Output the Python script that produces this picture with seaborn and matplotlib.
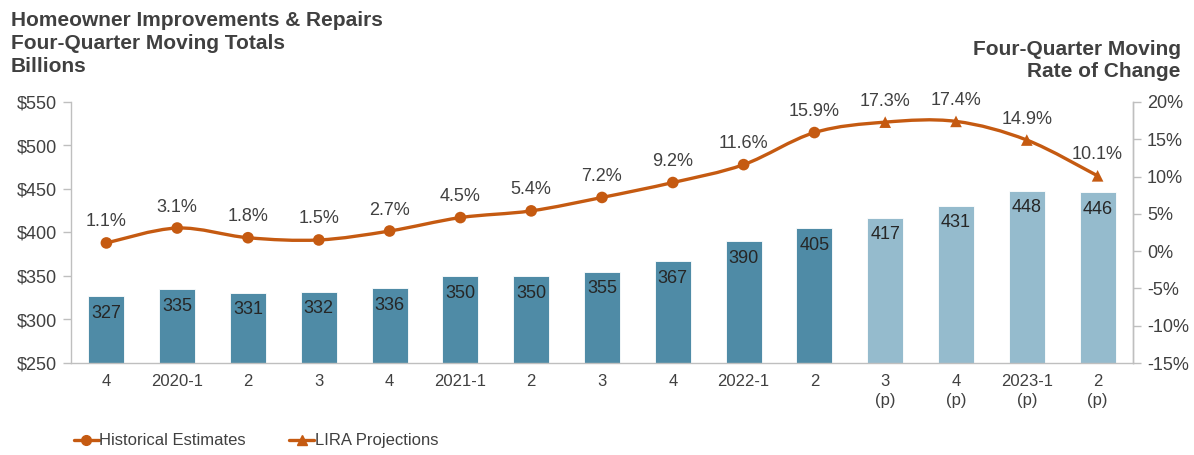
import numpy as np
import pandas as pd
import matplotlib
matplotlib.use('Agg')
import matplotlib.pyplot as plt
from matplotlib.path import Path
from matplotlib.patches import PathPatch
from matplotlib.lines import Line2D
import seaborn as sns

# data
quarters = ['4', '2020-1', '2', '3', '4', '2021-1', '2', '3', '4', '2022-1', '2',
            '3\n(p)', '4\n(p)', '2023-1\n(p)', '2\n(p)']
spending = [327, 335, 331, 332, 336, 350, 350, 355, 367, 390, 405, 417, 431, 448, 446]
rate_change = [1.1, 3.1, 1.8, 1.5, 2.7, 4.5, 5.4, 7.2, 9.2, 11.6, 15.9, 17.3, 17.4, 14.9, 10.1]
kind = ['Historical'] * 11 + ['Projection'] * 4

dark_blue = '#4F8BA6'
light_blue = '#95BBCD'
orange = '#C55A11'
txt = '#404040'
grey = '#BFBFBF'
font_size_ = 12
label_size = 13
title_size = 15

sns.set_style('white')
plt.rcParams['font.family'] = ['Liberation Sans', 'DejaVu Sans']

df = pd.DataFrame({'pos': [str(i) for i in range(len(quarters))],
                   'spending': spending, 'kind': kind, 'rate': rate_change})

fig = plt.figure(figsize=(11.94, 4.55), dpi=100)
ax = fig.add_axes([71 / 1194, 1 - 363 / 455, 1062 / 1194, 261 / 455])

sns.barplot(data=df, x='pos', y='spending', hue='kind', dodge=False, width=0.51,
            palette={'Historical': dark_blue, 'Projection': light_blue},
            saturation=1, errorbar=None, legend=False, ax=ax,
            edgecolor='white', linewidth=0.6)
ax.set_ylim(250, 550)
ax.set_xlim(-0.5, len(quarters) - 0.5)
ax.set_xlabel('')
ax.set_ylabel('')
ax.set_yticks(range(250, 551, 50))
ax.set_yticklabels(['$%d' % v for v in range(250, 551, 50)])
ax.set_xticks(range(len(quarters)))
ax.set_xticklabels(quarters, linespacing=1.35)
ax.set_xticks(np.arange(-0.5, len(quarters), 1), minor=True)
ax.tick_params(axis='x', which='major', length=0, pad=8, labelsize=font_size_, labelcolor=txt)
ax.tick_params(axis='x', which='minor', length=6, width=1, color=grey, direction='out')
ax.tick_params(axis='y', length=6, width=1, color=grey, direction='out', pad=4,
               labelsize=label_size, labelcolor=txt, left=True)
ax.spines['top'].set_visible(False)
for s in ['left', 'bottom', 'right']:
    ax.spines[s].set_color(grey)
    ax.spines[s].set_linewidth(1)

# bar value labels inside the top of each bar
for i, v in enumerate(spending):
    ax.annotate(str(v), (i, v), xytext=(0, -17), textcoords='offset pixels',
                ha='center', va='center', fontsize=label_size, color='#262626')

# rate of change on the right axis
ax2 = ax.twinx()
ax2.set_ylim(-15, 20)
ax2.set_yticks(range(-15, 21, 5))
ax2.set_yticklabels(['%d%%' % v for v in range(-15, 21, 5)])
ax2.tick_params(axis='y', length=6, width=1, color=grey, direction='out', pad=4,
                labelsize=label_size, labelcolor=txt, right=True)
for s in ['top', 'left', 'bottom']:
    ax2.spines[s].set_visible(False)
ax2.spines['right'].set_color(grey)
ax2.spines['right'].set_linewidth(1)

# smoothed line (Catmull-Rom as cubic Bezier), like Excel's smoothed series
pts = np.column_stack([np.arange(len(rate_change)), rate_change]).astype(float)
ext = np.vstack([pts[0], pts, pts[-1]])
verts = [pts[0]]
codes = [Path.MOVETO]
for i in range(len(pts) - 1):
    p0, p1, p2, p3 = ext[i], ext[i + 1], ext[i + 2], ext[i + 3]
    verts += [p1 + (p2 - p0) / 6, p2 - (p3 - p1) / 6, p2]
    codes += [Path.CURVE4] * 3
ax2.add_patch(PathPatch(Path(verts, codes), facecolor='none', edgecolor=orange,
                        lw=2.4, capstyle='round', joinstyle='round', zorder=3))

sns.scatterplot(data=df, x=np.arange(len(quarters)), y='rate', style='kind',
                markers={'Historical': 'o', 'Projection': '^'}, color=orange,
                s=70, edgecolor=orange, linewidth=0, legend=False, ax=ax2, zorder=4)
ax2.set_xlim(-0.5, len(quarters) - 0.5)
ax2.set_ylabel('')
for i, v in enumerate(rate_change):
    ax2.annotate('%.1f%%' % v, (i, v), xytext=(0, 21), textcoords='offset pixels',
                 ha='center', va='center', fontsize=label_size, color=txt)

# titles
fig.text(0.009, 0.975, 'Homeowner Improvements & Repairs\nFour-Quarter Moving Totals\nBillions',
         ha='left', va='top', fontsize=title_size, fontweight='bold', color=txt, linespacing=1.25)
fig.text(0.989, 0.912, 'Four-Quarter Moving\nRate of Change',
         ha='right', va='top', fontsize=title_size, fontweight='bold', color=txt, linespacing=1.22)

# legend
handles = [Line2D([], [], color=orange, lw=2.4, marker='o', markersize=7),
           Line2D([], [], color=orange, lw=2.4, marker='^', markersize=7)]
fig.legend(handles, ['Historical Estimates', 'LIRA Projections'], loc='center left',
           bbox_to_anchor=(0.049, 0.031), ncol=2, frameon=False, fontsize=font_size_,
           handlelength=1.5, handletextpad=0.05, columnspacing=2.6, labelcolor=txt)

fig.savefig('out.png', dpi=100)
